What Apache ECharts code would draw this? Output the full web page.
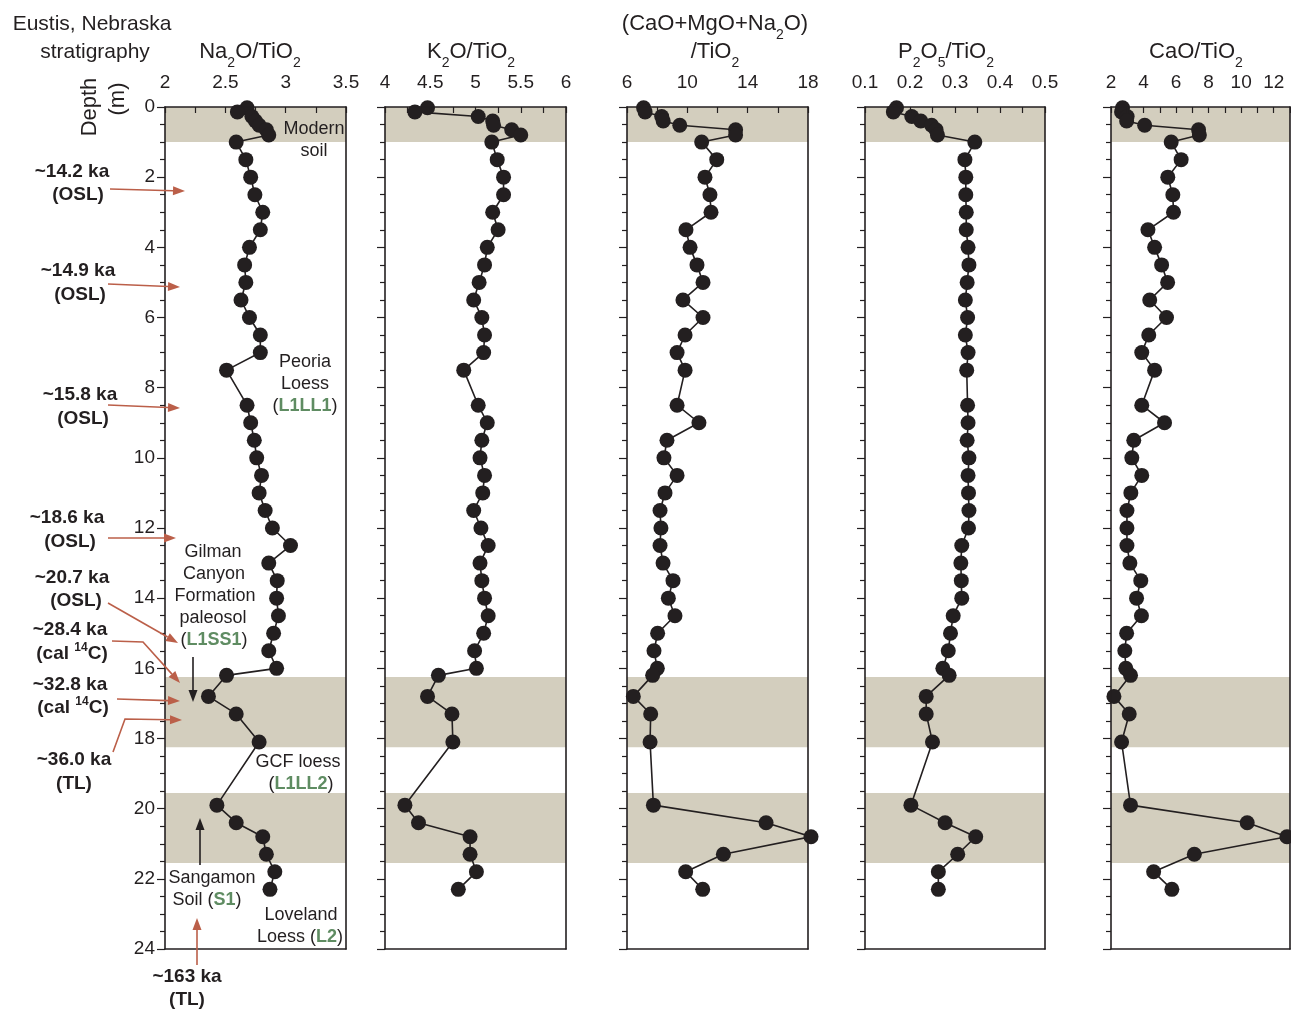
<!DOCTYPE html>
<html><head><meta charset="utf-8">
<script src="https://cdn.jsdelivr.net/npm/echarts@6.0.0/dist/echarts.min.js"></script>
<style>html,body{margin:0;padding:0;background:#fff}#c{width:1291px;height:1013px}</style>
</head><body><div id="c"></div>
<script>
// ---- data (depth in m) ----
const depth = [0.02,0.14,0.27,0.4,0.52,0.65,0.8,1.0,1.5,2.0,2.5,3.0,3.5,4.0,4.5,5.0,5.5,6.0,6.5,7.0,7.5,
  8.5,9.0,9.5,10.0,10.5,11.0,11.5,12.0,12.5,13.0,13.5,14.0,14.5,15.0,15.5,16.0,
  16.2,16.8,17.3,18.1,19.9,20.4,20.8,21.3,21.8,22.3];
const na2oTiO2 = [2.68,2.60,2.72,2.75,2.78,2.84,2.86,2.59,2.67,2.71,2.745,2.81,2.79,2.70,2.66,2.67,2.63,2.70,2.79,2.79,2.51,
  2.68,2.71,2.74,2.76,2.80,2.78,2.83,2.89,3.04,2.86,2.93,2.925,2.94,2.90,2.86,2.925,
  2.51,2.36,2.59,2.78,2.43,2.59,2.81,2.84,2.91,2.87];
const k2oTiO2 = [4.47,4.33,5.03,5.19,5.20,5.40,5.50,5.18,5.24,5.31,5.31,5.19,5.25,5.13,5.10,5.04,4.98,5.07,5.10,5.09,4.87,
  5.03,5.13,5.07,5.05,5.10,5.08,4.98,5.06,5.14,5.05,5.07,5.10,5.14,5.09,4.99,5.01,
  4.59,4.47,4.74,4.75,4.22,4.37,4.94,4.94,5.01,4.81];
const baseTiO2 = [7.1,7.2,8.3,8.4,9.5,13.2,13.2,10.95,11.95,11.17,11.5,11.57,9.91,10.18,10.64,11.04,9.71,11.04,9.85,9.32,9.85,
  9.32,10.77,8.65,8.45,9.32,8.52,8.19,8.25,8.19,8.39,9.05,8.74,9.18,8.03,7.79,8.01,
  7.70,6.42,7.57,7.53,7.75,15.22,18.2,12.39,9.89,11.02];
const p2o5TiO2 = [0.170,0.163,0.204,0.224,0.248,0.258,0.261,0.344,0.322,0.324,0.324,0.325,0.325,0.329,0.331,0.327,0.323,0.328,0.323,0.329,0.326,
  0.328,0.329,0.327,0.331,0.329,0.330,0.331,0.330,0.315,0.313,0.314,0.315,0.296,0.290,0.285,0.273,
  0.287,0.236,0.236,0.250,0.202,0.278,0.346,0.306,0.263,0.263];
const caoTiO2 = [2.71,2.65,2.99,2.96,4.07,7.38,7.43,5.70,6.31,5.49,5.80,5.84,4.27,4.68,5.11,5.48,4.38,5.41,4.32,3.89,4.68,
  3.89,5.29,3.40,3.28,3.89,3.22,2.98,2.98,2.98,3.16,3.83,3.57,3.87,2.96,2.85,2.91,
  3.20,2.18,3.12,2.65,3.20,10.37,12.81,7.12,4.62,5.74];
// soil horizons (depth ranges, m)
const bands = [[0,1.0],[16.25,18.25],[19.55,21.55]];

const INK = '#231f20', RED = '#bb5f49', GREEN = '#5f8c62', BAND = '#d3cebe';
const FF = '"Liberation Sans", Arial, Helvetica, sans-serif';

const panels = [
  {left:165, width:181, min:2, max:3.5, tick:0.25, label:0.5, data:na2oTiO2},
  {left:385, width:181, min:4, max:6, tick:0.25, label:0.5, data:k2oTiO2},
  {left:627, width:181, min:6, max:18, tick:2, label:4, data:baseTiO2},
  {left:865, width:180, min:0.1, max:0.5, tick:0.05, label:0.1, data:p2o5TiO2},
  {left:1111, width:179, min:2, max:13, tick:1, label:2, data:caoTiO2}
];
const TOP = 107, H = 842;

const grid = [], xAxis = [], yAxis = [], series = [];
panels.forEach((p, i) => {
  grid.push({left:p.left, top:TOP, width:p.width, height:H, outerBoundsMode:'none', containLabel:false});
  xAxis.push({type:'value', gridIndex:i, position:'top', min:p.min, max:p.max, interval:p.tick, z:6,
    axisLine:{show:true, lineStyle:{color:INK, width:1.6}},
    axisTick:{show:true, inside:true, length:6, lineStyle:{color:INK, width:1.2}},
    splitLine:{show:false},
    axisLabel:{show:true, margin:15, color:INK, fontSize:19, fontFamily:FF, showMinLabel:true, showMaxLabel:true, hideOverlap:false,
      formatter: v => { const r = (v - p.min) / p.label; return Math.abs(r - Math.round(r)) < 1e-6 ? String(+v.toFixed(2)) : ''; }}
  });
  yAxis.push({type:'value', gridIndex:i, inverse:true, min:0, max:24, interval:2, z:6,
    axisLine:{show:true, lineStyle:{color:INK, width:1.6}},
    axisTick:{show:true, inside:false, length:8, lineStyle:{color:INK, width:1.2}},
    minorTick:{show:true, splitNumber:4, length:5, lineStyle:{color:INK, width:1.2}},
    splitLine:{show:false}, minorSplitLine:{show:false},
    axisLabel:{show:i === 0, margin:10, color:INK, fontSize:19, fontFamily:FF}
  });
  series.push({type:'line', xAxisIndex:i, yAxisIndex:i, z:3, clip:false, silent:true, animation:false,
    data: depth.map((d, j) => [p.data[j], d]),
    symbol:'circle', symbolSize:15, showSymbol:true, showAllSymbol:true,
    itemStyle:{color:INK, borderWidth:0}, lineStyle:{color:INK, width:1.6},
    markArea:{silent:true, z:1, itemStyle:{color:BAND}, label:{show:false},
      data: bands.map(b => [{yAxis:b[0]}, {yAxis:b[1]}])}
  });
});
// right and bottom frame lines
panels.forEach((p, i) => {
  xAxis.push({type:'value', gridIndex:i, position:'bottom', min:p.min, max:p.max, z:6,
    axisLine:{show:true, onZero:false, lineStyle:{color:INK, width:1.6}}, axisTick:{show:false}, axisLabel:{show:false}, splitLine:{show:false}});
  yAxis.push({type:'value', gridIndex:i, position:'right', inverse:true, min:0, max:24, z:6,
    axisLine:{show:true, onZero:false, lineStyle:{color:INK, width:1.6}}, axisTick:{show:false}, axisLabel:{show:false}, splitLine:{show:false}});
});

// ---- annotation helpers ----
const RICH = {
  s:{font:'14px ' + FF, fill:INK, padding:[22,0,0,0]},
  sup:{font:'bold 12px ' + FF, fill:INK, padding:[0,0,12,0]},
  g:{font:'bold 18px ' + FF, fill:GREEN}
};
function txt(x, y, text, size, bold, rot) {
  return {type:'text', x, y, rotation: rot || 0, silent:true, z:20,
    style:{text, font:(bold ? 'bold ' : '') + size + 'px ' + FF, fill:INK,
      align:'center', verticalAlign:'middle', textAlign:'center', textVerticalAlign:'middle', rich:RICH}};
}
function arrow(pts, color) {
  const n = pts.length, [x1, y1] = pts[n-2], [x2, y2] = pts[n-1];
  const a = Math.atan2(y2 - y1, x2 - x1), L = 12, W = 4.5;
  const bx = x2 - L * Math.cos(a), by = y2 - L * Math.sin(a);
  const head = [[x2, y2], [bx + W * Math.sin(a), by - W * Math.cos(a)], [bx - W * Math.sin(a), by + W * Math.cos(a)]];
  return [
    {type:'polyline', silent:true, z:20, shape:{points: pts.slice(0, n-1).concat([[bx, by]])}, style:{stroke:color, lineWidth:1.6, fill:null}},
    {type:'polygon', silent:true, z:20, shape:{points: head}, style:{fill:color, stroke:null}}
  ];
}

const graphic = [
  txt(92, 24, 'Eustis, Nebraska', 21), txt(95, 52, 'stratigraphy', 21),
  txt(90, 107, 'Depth', 22, false, Math.PI/2), txt(118, 99, '(m)', 22, false, Math.PI/2),
  txt(250, 52, 'Na{s|2}O/TiO{s|2}', 22), txt(471, 52, 'K{s|2}O/TiO{s|2}', 22),
  txt(715, 24, '(CaO+MgO+Na{s|2}O)', 22), txt(715, 52, '/TiO{s|2}', 22),
  txt(946, 52, 'P{s|2}O{s|5}/TiO{s|2}', 22), txt(1196, 52, 'CaO/TiO{s|2}', 22),
  // panel labels
  txt(314, 129, 'Modern', 18), txt(314, 151, 'soil', 18),
  txt(305, 362, 'Peoria', 18), txt(305, 384, 'Loess', 18), txt(305, 406, '({g|L1LL1})', 18),
  txt(213, 552, 'Gilman', 18), txt(214, 574, 'Canyon', 18), txt(215, 596, 'Formation', 18),
  txt(213, 618, 'paleosol', 18), txt(214, 640, '({g|L1SS1})', 18),
  txt(298, 762, 'GCF loess', 18), txt(301, 784, '({g|L1LL2})', 18),
  txt(212, 878, 'Sangamon', 18), txt(207, 900, 'Soil ({g|S1})', 18),
  txt(301, 915, 'Loveland', 18), txt(300, 937, 'Loess ({g|L2})', 18),
  // ages
  txt(72, 172, '~14.2 ka', 19, true), txt(78, 195, '(OSL)', 19, true),
  txt(78, 271, '~14.9 ka', 19, true), txt(80, 295, '(OSL)', 19, true),
  txt(80, 395, '~15.8 ka', 19, true), txt(83, 419, '(OSL)', 19, true),
  txt(67, 518, '~18.6 ka', 19, true), txt(70, 542, '(OSL)', 19, true),
  txt(72, 578, '~20.7 ka', 19, true), txt(76, 601, '(OSL)', 19, true),
  txt(70, 630, '~28.4 ka', 19, true), txt(72, 654, '(cal {sup|14}C)', 19, true),
  txt(70, 685, '~32.8 ka', 19, true), txt(73, 708, '(cal {sup|14}C)', 19, true),
  txt(74, 760, '~36.0 ka', 19, true), txt(74, 784, '(TL)', 19, true),
  txt(187, 977, '~163 ka', 19, true), txt(187, 1000, '(TL)', 19, true)
].concat(
  arrow([[110, 189], [185, 191]], RED),
  arrow([[108, 284], [180, 287]], RED),
  arrow([[108, 405], [180, 408]], RED),
  arrow([[108, 538], [176, 538]], RED),
  arrow([[108, 603], [178, 643]], RED),
  arrow([[112, 641], [143, 642], [180, 683]], RED),
  arrow([[117, 699], [180, 701]], RED),
  arrow([[113, 752], [125, 719], [182, 720]], RED),
  arrow([[197, 965], [197, 918]], RED),
  arrow([[193, 657], [193, 702]], INK),
  arrow([[200, 865], [200, 818]], INK)
);

const chart = echarts.init(document.getElementById('c'), null, {renderer:'canvas'});
chart.setOption({animation:false, backgroundColor:'#fff', grid, xAxis, yAxis, series, graphic:{elements:graphic}});
</script>
</body></html>
